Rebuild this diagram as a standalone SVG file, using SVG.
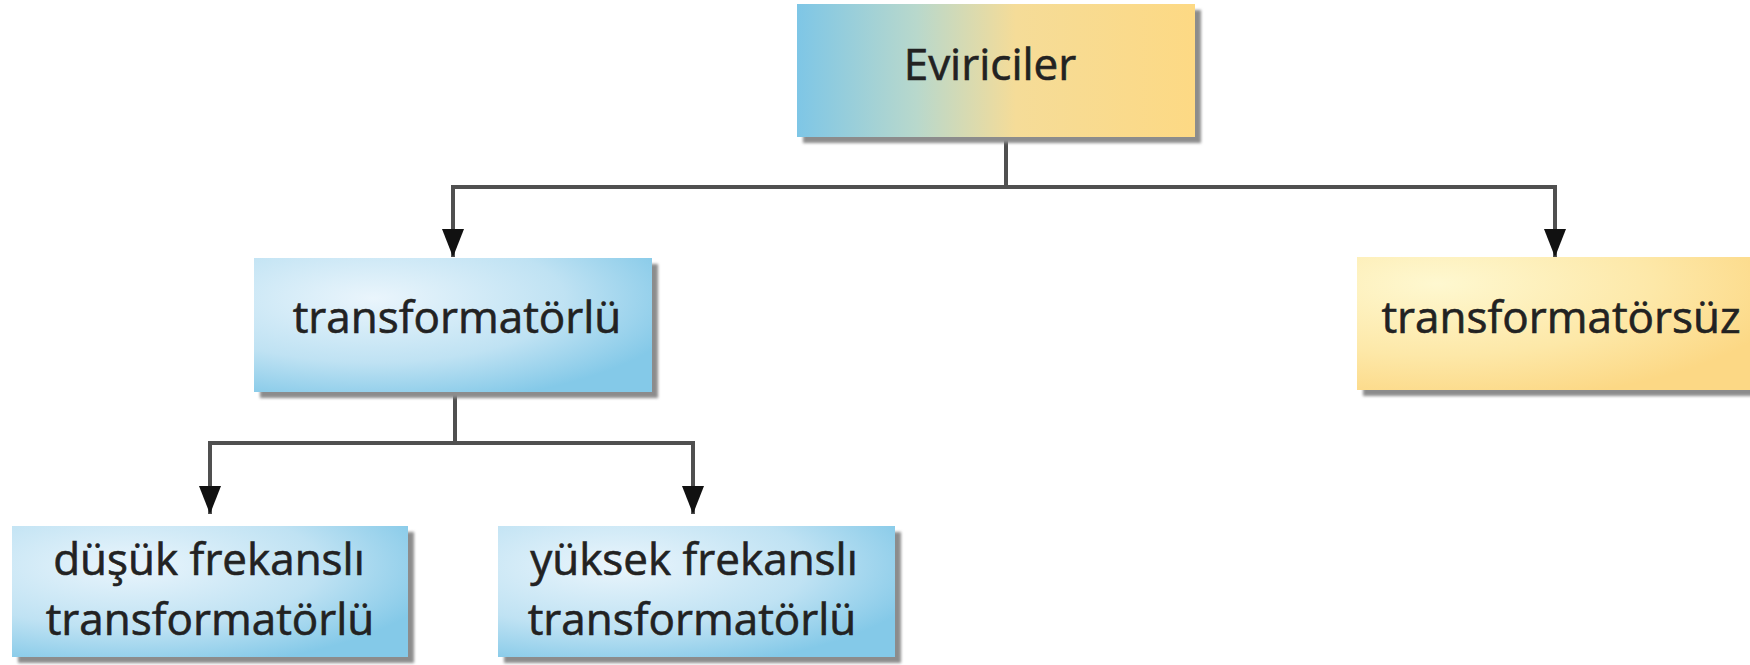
<svg xmlns="http://www.w3.org/2000/svg" width="1750" height="665" viewBox="0 0 1750 665">
<defs>
<style>
.lbl{font-family:"Open Sans","Noto Sans",sans-serif;font-size:44px;fill:#222;stroke:#222;stroke-width:0.6;text-anchor:middle}
.shadow{fill:#8c8c8c;filter:url(#blur)}
.conn{fill:none;stroke:#505050;stroke-width:4}
</style>
<filter id="blur" x="-5%" y="-10%" width="110%" height="120%"><feGaussianBlur stdDeviation="1.5"/></filter>
<linearGradient id="gTop" x1="0" y1="0" x2="1" y2="0">
<stop offset="0" stop-color="#7ec6e6"/>
<stop offset="0.3" stop-color="#b8d8cc"/>
<stop offset="0.55" stop-color="#f5dc98"/>
<stop offset="1" stop-color="#fdd984"/>
</linearGradient>
<radialGradient id="gBlue" cx="0.3" cy="0.3" r="0.8" gradientUnits="objectBoundingBox">
<stop offset="0" stop-color="#eaf5fc"/>
<stop offset="0.6" stop-color="#bfe2f3"/>
<stop offset="1" stop-color="#84c9e8"/>
</radialGradient>
<radialGradient id="gYellow" cx="0.2" cy="0.2" r="0.9" gradientUnits="objectBoundingBox">
<stop offset="0" stop-color="#fef8d0"/>
<stop offset="0.6" stop-color="#fde8a8"/>
<stop offset="1" stop-color="#fcd885"/>
</radialGradient>
<marker id="arr" markerWidth="28" markerHeight="22" refX="28" refY="11" orient="auto" markerUnits="userSpaceOnUse" viewBox="0 0 28 22">
<path d="M0,0 L28,11 L0,22 Z" fill="#111"/>
</marker>
</defs>
<rect width="1750" height="665" fill="#ffffff"/>

<g id="connectors">
<path class="conn" d="M1006,138 V187"/>
<path class="conn" d="M451,187 H1557"/>
<path class="conn" d="M453,185 V257" marker-end="url(#arr)"/>
<path class="conn" d="M1555,185 V257" marker-end="url(#arr)"/>
<path class="conn" d="M455,393 V443"/>
<path class="conn" d="M208,443 H695"/>
<path class="conn" d="M210,441 V514" marker-end="url(#arr)"/>
<path class="conn" d="M693,441 V514" marker-end="url(#arr)"/>
</g>

<g id="node-eviriciler">
<rect class="shadow" x="803" y="10" width="398" height="133"/>
<rect x="797" y="4" width="398" height="133" fill="url(#gTop)"/>
<text class="lbl" x="990" y="80">Eviriciler</text>
</g>

<g id="node-transformatorlu">
<rect class="shadow" x="260" y="264" width="398" height="134"/>
<rect x="254" y="258" width="398" height="134" fill="url(#gBlue)"/>
<text class="lbl" x="457" y="333">transformatörlü</text>
</g>

<g id="node-transformatorsuz">
<rect class="shadow" x="1363" y="263" width="400" height="133"/>
<rect x="1357" y="257" width="400" height="133" fill="url(#gYellow)"/>
<text class="lbl" x="1561" y="333">transformatörsüz</text>
</g>

<g id="node-dusuk">
<rect class="shadow" x="18" y="532" width="396" height="131"/>
<rect x="12" y="526" width="396" height="131" fill="url(#gBlue)"/>
<text class="lbl" x="209" y="575">düşük frekanslı</text>
<text class="lbl" x="210" y="635">transformatörlü</text>
</g>

<g id="node-yuksek">
<rect class="shadow" x="504" y="532" width="397" height="131"/>
<rect x="498" y="526" width="397" height="131" fill="url(#gBlue)"/>
<text class="lbl" x="694" y="575">yüksek frekanslı</text>
<text class="lbl" x="692" y="635">transformatörlü</text>
</g>
</svg>
